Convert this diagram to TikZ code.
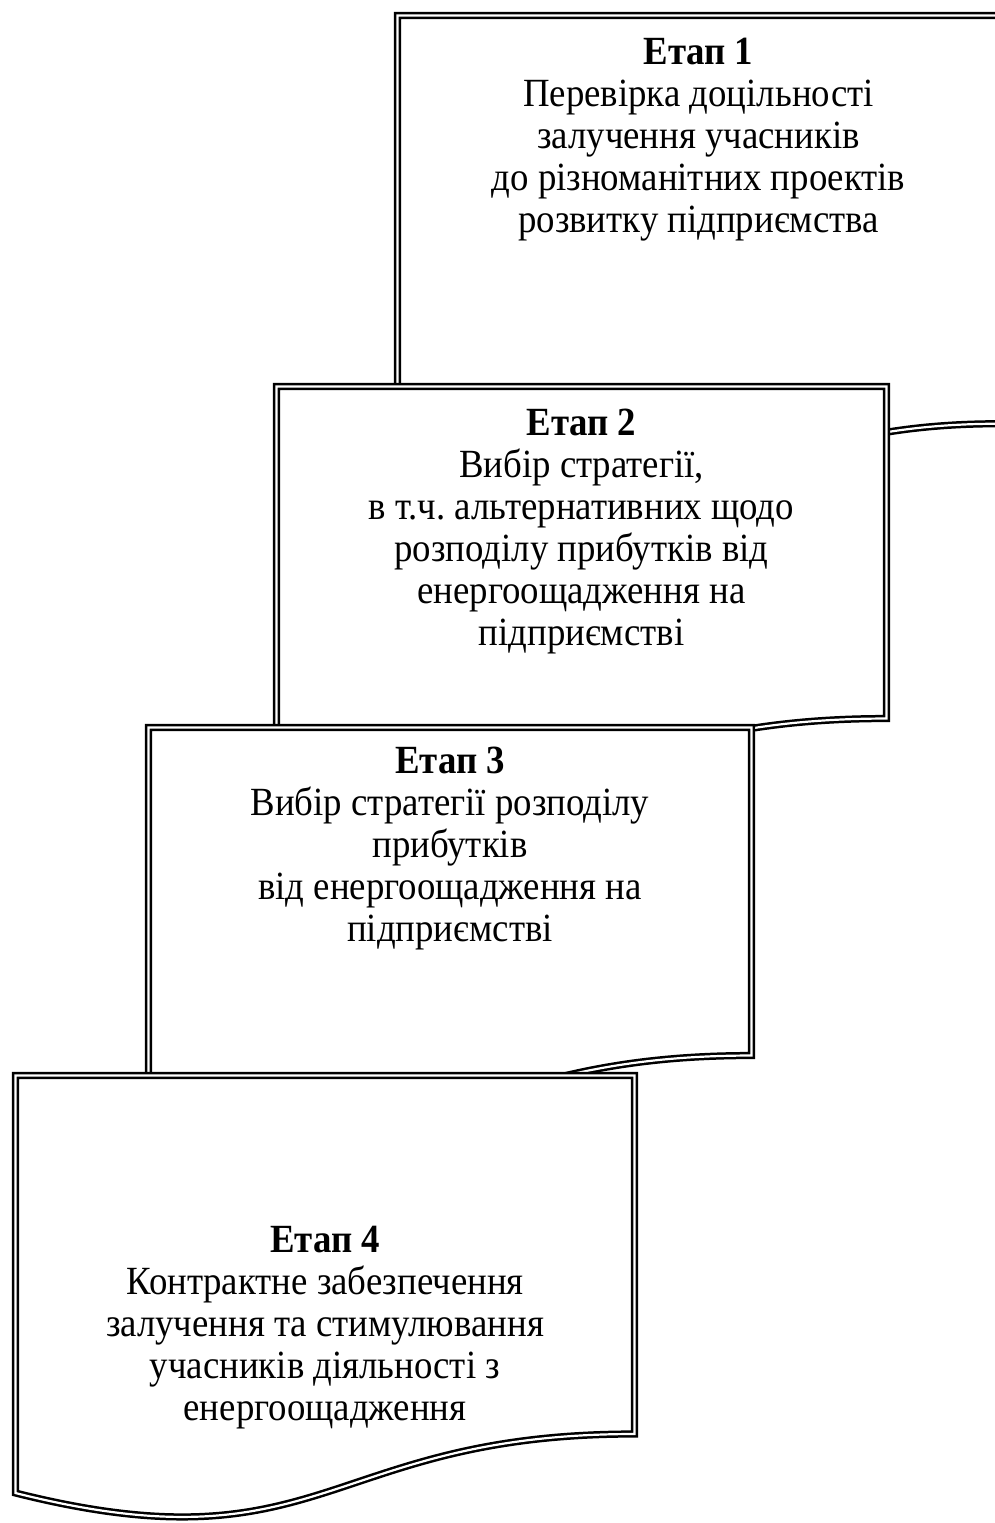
\documentclass[tikz,border=0pt]{standalone}
\usepackage{fontspec}
\setmainfont{Liberation Serif}[FakeStretch=0.92]
\frenchspacing

\tikzset{
  docbox/.style={draw, fill=white, line width=1.25pt, double=white, double distance=1.1pt},
  stagetext/.style={anchor=north, align=center, inner sep=0pt, font=\fontsize{20}{21}\selectfont}
}

\begin{document}
\begin{tikzpicture}[x=0.5pt,y=-0.5pt]
    \useasboundingbox (0,0) rectangle (995,1523);
    \clip (0,0) rectangle (995,1523);
    % stages as document shapes, each one laid over the previous
    \foreach \bx/\by/\bw/\bh/\ny/\txt [count=\n] in {
        397.5/15.5/602/509/34.6/{Перевірка доцільності\\залучення учасників\\до різноманітних проектів\\розвитку підприємства},
        276.5/386.5/610/414/405.6/{Вибір стратегії,\\в т.ч. альтернативних щодо\\розподілу прибутків від\\енергоощадження на\\підприємстві},
        148.5/727.5/603/409/743.6/{Вибір стратегії розподілу\\прибутків\\від енергоощадження на\\підприємстві},
        15.5/1075.5/619/447/1222.6/{Контрактне забезпечення\\залучення та стимулювання\\учасників діяльності з\\енергоощадження}} {
        \draw[docbox] (\bx,\by) -- (\bx+\bw,\by) -- (\bx+\bw,\by+0.802*\bh)
            .. controls (\bx+0.5*\bw,\by+0.802*\bh) and (\bx+0.5*\bw,\by+1.108*\bh) .. (\bx,\by+0.934*\bh) -- cycle;
        \node[stagetext] (st\n) at (\bx+0.5*\bw,\ny) {\strut\textbf{Етап \n}\\\txt};
    }
\end{tikzpicture}
\end{document}
